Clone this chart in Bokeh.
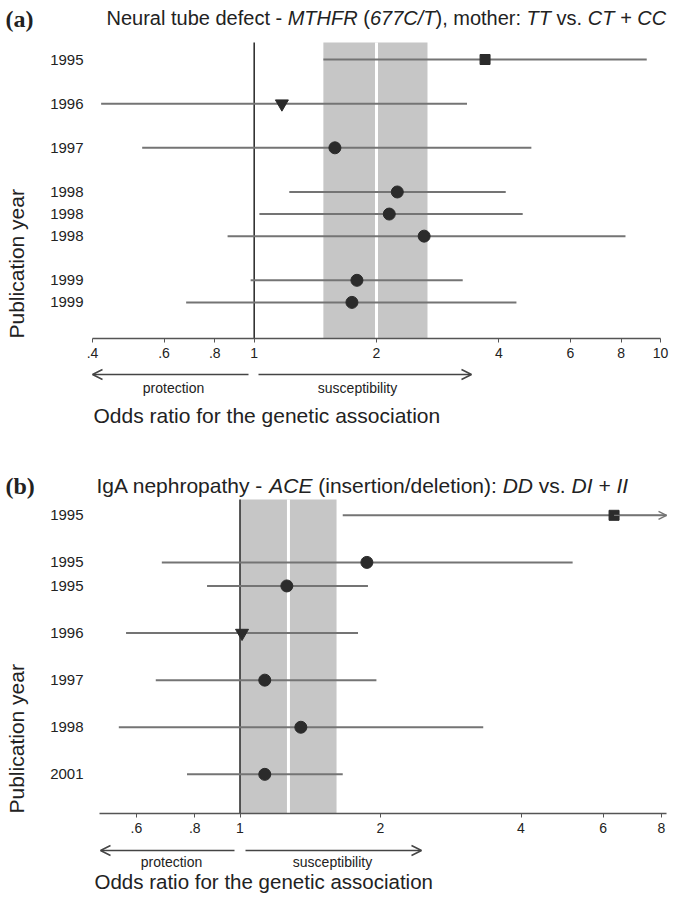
import math
from bokeh.plotting import figure
from bokeh.models import (Range1d, FixedTicker, BoxAnnotation, Label,
                          Arrow, OpenHead, ColumnDataSource)
from bokeh.layouts import column
from bokeh.embed import file_html
from bokeh.resources import INLINE

# ---------------- data ----------------
# Panel (a): Neural tube defect - MTHFR (677C/T)
years_a = [1995, 1996, 1997, 1998, 1998, 1998, 1999, 1999]
group_a = [0, 1, 2, 3, 3, 3, 4, 4]
or_a = [3.70, 1.17, 1.58, 2.25, 2.15, 2.62, 1.79, 1.74]
lower_a = [1.48, 0.42, 0.53, 1.22, 1.03, 0.86, 0.98, 0.68]
upper_a = [9.25, 3.34, 4.81, 4.16, 4.58, 8.20, 3.26, 4.42]
marker_a = ["square", "inverted_triangle", "circle", "circle", "circle",
            "circle", "circle", "circle"]
pooled_a = [1.48, 2.00, 2.67]          # lower, estimate, upper
xticks_a = [0.4, 0.6, 0.8, 1, 2, 4, 6, 8, 10]
xlabels_a = [".4", ".6", ".8", "1", "2", "4", "6", "8", "10"]

# Panel (b): IgA nephropathy - ACE (insertion/deletion)
years_b = [1995, 1995, 1995, 1996, 1997, 1998, 2001]
group_b = [0, 1, 1, 2, 3, 4, 5]
or_b = [6.33, 1.87, 1.26, 1.01, 1.13, 1.35, 1.13]
lower_b = [1.66, 0.68, 0.85, 0.57, 0.66, 0.55, 0.77]
upper_b = [15.0, 5.16, 1.88, 1.79, 1.96, 3.32, 1.66]   # first one runs off the axis
marker_b = ["square", "circle", "circle", "inverted_triangle", "circle",
            "circle", "circle"]
pooled_b = [1.00, 1.27, 1.61]
xticks_b = [0.6, 0.8, 1, 2, 4, 6, 8]
xlabels_b = [".6", ".8", "1", "2", "4", "6", "8"]

# ---------------- styles ----------------
FONT = "Liberation Sans"
TXT = "#222222"
CI_COLOR = "#747474"
MK_COLOR = "#2b2b2b"
BAND = "#c6c6c6"
AXIS = "#555555"
SIZES = {"square": 10, "circle": 12, "inverted_triangle": 13}
FIG_W = 670

W = {' ': 278, '-': 333, '(': 333, ')': 333, '/': 278, ':': 278, '.': 278,
     ',': 278, '+': 584}
for d in "0123456789":
    W[d] = 556
W.update(dict(zip("ABCDEFGHIJKLMNOPQRSTUVWXYZ",
                  [667, 667, 722, 722, 667, 611, 778, 722, 278, 500, 667, 556, 833,
                   722, 778, 667, 778, 722, 667, 611, 722, 667, 944, 667, 667, 611])))
W.update(dict(zip("abcdefghijklmnopqrstuvwxyz",
                  [556, 556, 500, 556, 556, 278, 556, 556, 222, 222, 500, 222, 833,
                   556, 556, 556, 556, 333, 500, 278, 556, 500, 722, 500, 500, 500])))


def tw(s, size):
    return sum(W.get(c, 556) for c in s) * size / 1000.0


def build(years, group, orv, lower, upper, markers, pooled, xticks, xlabels,
          fig_top, fig_h, one_px, dec, x_bounds, axis_y, band_top, row0, unit,
          ystandoff, tag, tag_y, title_parts, title_x, title_y, title_size,
          prot_arrow, susc_arrow, arrow_y, prot_x, susc_x, word_y,
          xlab_x, xlab_y, xlab_size):
    # pixel -> data helpers (layout only)
    def px2x(px):
        return 10 ** ((px - one_px) / dec)

    def px2y(py):
        return (row0 - py) / unit

    pos = [i + g for i, g in enumerate(group)]
    ypos = [-q for q in pos]
    x0, x1 = x_bounds
    p = figure(width=FIG_W, height=fig_h, x_axis_type="log",
               x_range=Range1d(px2x(0), px2x(FIG_W)),
               y_range=Range1d(px2y(fig_top + fig_h), px2y(fig_top)),
               output_backend="svg", toolbar_location=None, title=None,
               min_border=0, min_border_left=0, min_border_right=0,
               min_border_top=0, min_border_bottom=0)
    p.outline_line_color = None
    p.xgrid.visible = False
    p.ygrid.visible = False

    y_top = px2y(band_top)
    y_axis = px2y(axis_y)

    # pooled band, pooled estimate line, null line
    p.add_layout(BoxAnnotation(left=pooled[0], right=pooled[2], top=y_top,
                               bottom=y_axis, fill_color=BAND, fill_alpha=1.0,
                               line_color=None, level="underlay"))
    p.segment(x0=[pooled[1]], x1=[pooled[1]], y0=[y_top], y1=[y_axis],
              line_color="white", line_width=3)
    p.segment(x0=[1], x1=[1], y0=[y_top], y1=[y_axis],
              line_color="#333333", line_width=1.6)

    hi_draw = [min(u, x1) for u in upper]
    src = ColumnDataSource(dict(y=ypos, orv=orv, lo=lower, hi=hi_draw,
                                marker=markers,
                                size=[SIZES[m] for m in markers]))
    p.segment(x0="lo", x1="hi", y0="y", y1="y", source=src,
              line_color=CI_COLOR, line_width=2)
    for i, u in enumerate(upper):
        if u > x1:
            p.add_layout(Arrow(end=OpenHead(size=8, line_color=CI_COLOR, line_width=1.3),
                               x_start=orv[i], y_start=ypos[i], x_end=x1, y_end=ypos[i],
                               line_color=CI_COLOR, line_width=1.3))
    p.scatter(x="orv", y="y", marker="marker", size="size", source=src,
              fill_color=MK_COLOR, line_color=MK_COLOR)

    # x axis, fixed at the bottom of the study rows
    xa = p.xaxis[0]
    xa.fixed_location = y_axis
    xa.bounds = (x0, x1)
    xa.ticker = FixedTicker(ticks=xticks, minor_ticks=[])
    xa.major_label_overrides = {t: l for t, l in zip(xticks, xlabels)}
    xa.axis_line_color = AXIS
    xa.axis_line_width = 1.5
    xa.major_tick_line_color = AXIS
    xa.major_tick_out = 4
    xa.major_tick_in = 0
    xa.minor_tick_line_color = None
    xa.major_label_text_font = FONT
    xa.major_label_text_font_size = "14px"
    xa.major_label_text_color = TXT
    xa.major_label_standoff = 5

    # y axis: publication years
    ya = p.yaxis[0]
    ya.fixed_location = x0
    ya.ticker = FixedTicker(ticks=ypos, minor_ticks=[])
    ya.major_label_overrides = {q: str(y) for q, y in zip(ypos, years)}
    ya.axis_line_color = None
    ya.major_tick_line_color = None
    ya.minor_tick_line_color = None
    ya.major_tick_out = 0
    ya.major_tick_in = 0
    ya.major_label_text_font = FONT
    ya.major_label_text_font_size = "15px"
    ya.major_label_text_color = TXT
    ya.major_label_standoff = ystandoff

    def lab(x, y, text, size, style="normal", align="left", font=FONT, angle=0.0):
        p.add_layout(Label(x=x, y=y, text=text, text_font=font,
                           text_font_size=size, text_font_style=style,
                           text_color=TXT, text_align=align,
                           text_baseline="middle", angle=angle))

    # panel tag and title
    lab(px2x(5), px2y(tag_y), tag, "24px", "bold", font="Liberation Serif")
    cur = title_x
    for text, style in title_parts:
        lead = len(text) - len(text.lstrip(" "))
        s = text.strip(" ")
        lab(px2x(cur + tw(" " * lead, title_size)), px2y(title_y), s,
            f"{title_size}px", style)
        cur += tw(text, title_size)

    # y axis title (bottom aligned with the x axis)
    lab(px2x(16), px2y(axis_y), "Publication year", "21px", angle=math.pi / 2)

    # protection / susceptibility arrows
    for (a0, a1) in (prot_arrow, susc_arrow):
        p.add_layout(Arrow(end=OpenHead(size=10, line_color="#444444", line_width=1.5),
                           x_start=px2x(a0), y_start=px2y(arrow_y),
                           x_end=px2x(a1), y_end=px2y(arrow_y),
                           line_color="#444444", line_width=1.5))
    lab(px2x(prot_x), px2y(word_y), "protection", "14px", align="center")
    lab(px2x(susc_x), px2y(word_y), "susceptibility", "14px", align="center")
    lab(px2x(xlab_x), px2y(xlab_y), "Odds ratio for the genetic association",
        f"{xlab_size}px")
    return p


title_a = [("Neural tube defect - ", "normal"), ("MTHFR", "italic"), (" (", "normal"),
           ("677C/T", "italic"), ("), mother: ", "normal"), ("TT", "italic"),
           (" vs. ", "normal"), ("CT + CC", "italic")]
title_b = [("IgA nephropathy - ", "normal"), ("ACE", "italic"),
           (" (insertion/deletion): ", "normal"), ("DD", "italic"),
           (" vs. ", "normal"), ("DI + II", "italic")]

pa = build(years_a, group_a, or_a, lower_a, upper_a, marker_a, pooled_a,
           xticks_a, xlabels_a,
           fig_top=0, fig_h=440, one_px=253.7, dec=406.3, x_bounds=(0.4, 10),
           axis_y=338, band_top=42, row0=59.0, unit=22.08, ystandoff=9,
           tag="(a)", tag_y=18, title_parts=title_a, title_x=106, title_y=17,
           title_size=20,
           prot_arrow=(248, 92), susc_arrow=(258, 471), arrow_y=374,
           prot_x=173, susc_x=357, word_y=387, xlab_x=93, xlab_y=415, xlab_size=21)

pb = build(years_b, group_b, or_b, lower_b, upper_b, marker_b, pooled_b,
           xticks_b, xlabels_b,
           fig_top=440, fig_h=454, one_px=239.5, dec=466.75, x_bounds=(0.5, 8.2),
           axis_y=813, band_top=499, row0=514.8, unit=23.55, ystandoff=16,
           tag="(b)", tag_y=485, title_parts=title_b, title_x=96, title_y=485,
           title_size=21,
           prot_arrow=(234, 100), susc_arrow=(245, 421), arrow_y=850,
           prot_x=171, susc_x=332, word_y=861, xlab_x=94, xlab_y=881, xlab_size=20.5)

layout = column(pa, pb, spacing=0)
open("out.html", "w").write(file_html(layout, INLINE))
